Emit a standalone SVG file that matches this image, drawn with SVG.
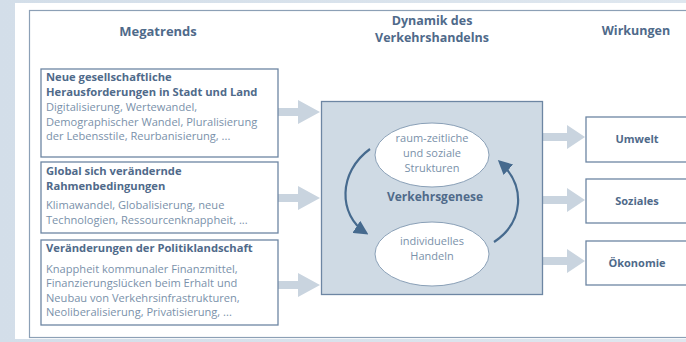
<svg xmlns="http://www.w3.org/2000/svg" width="686" height="342" viewBox="0 0 686 342">
<defs>
<linearGradient id="bg" x1="0" y1="0" x2="1" y2="0">
<stop offset="0" stop-color="#d3dee9"/><stop offset="1" stop-color="#dfe7ef"/>
</linearGradient>
<marker id="ah" viewBox="0 0 10 10" refX="8" refY="5" markerWidth="6.5" markerHeight="6.5" orient="auto" markerUnits="strokeWidth">
<path d="M0,0 L10,5 L0,10 Z" fill="#466a8e"/>
</marker>
<style>
.hd{font-family:"Open Sans","Noto Sans",sans-serif;font-weight:bold;fill:#4f6a8a;}
.bt{font-family:"Open Sans","Noto Sans",sans-serif;fill:#7a91aa;font-size:11.1px;}
.et{font-family:"Open Sans","Noto Sans",sans-serif;fill:#7a91aa;font-size:11px;}
.bh{font-family:"Open Sans","Noto Sans",sans-serif;font-weight:bold;fill:#4f6a8a;font-size:11.2px;}
.box{fill:#fff;stroke:#6d86a3;stroke-width:1.3;}
.arr{fill:#c9d4df;}
.ell{fill:#fff;stroke:#8aa0b7;stroke-width:1;}
.cur{fill:none;stroke:#466a8e;stroke-width:2.2;}
</style>
</defs>
<rect x="0" y="0" width="686" height="342" fill="url(#bg)"/>
<rect x="15" y="3" width="680" height="336" fill="#fff"/>
<rect x="29.5" y="10.5" width="680" height="327" fill="none" stroke="#8ca0b6" stroke-width="1.2"/>

<g id="headers">
<text class="hd" x="158" y="36" font-size="13" text-anchor="middle">Megatrends</text>
<text class="hd" x="432" y="25" font-size="12.5" text-anchor="middle">Dynamik des</text>
<text class="hd" x="432" y="41.5" font-size="12.5" text-anchor="middle">Verkehrshandelns</text>
<text class="hd" x="636" y="35" font-size="12.5" text-anchor="middle">Wirkungen</text>
</g>

<g id="connectors">
<polygon class="arr" points="278,108 298,108 298,100 320,112 298,124 298,116 278,116"/>
<polygon class="arr" points="278,194 298,194 298,186 320,198 298,210 298,202 278,202"/>
<polygon class="arr" points="278,281 298,281 298,273 320,285 298,297 298,289 278,289"/>
<polygon class="arr" points="543,133 567,133 567,125 585,137 567,149 567,141 543,141"/>
<polygon class="arr" points="543,196 567,196 567,188 585,200 567,212 567,204 543,204"/>
<polygon class="arr" points="543,257 567,257 567,249 585,261 567,273 567,265 543,265"/>
</g>

<g id="mt1">
<rect class="box" x="41" y="69" width="237" height="88"/>
<text class="bh" x="46" y="81">Neue gesellschaftliche</text>
<text class="bh" x="46" y="96">Herausforderungen in Stadt und Land</text>
<text class="bt" x="46" y="111">Digitalisierung, Wertewandel,</text>
<text class="bt" x="46" y="126">Demographischer Wandel, Pluralisierung</text>
<text class="bt" x="46" y="140">der Lebensstile, Reurbanisierung, ...</text>
</g>
<g id="mt2">
<rect class="box" x="41" y="162" width="237" height="71"/>
<text class="bh" x="46" y="175">Global sich verändernde</text>
<text class="bh" x="46" y="190">Rahmenbedingungen</text>
<text class="bt" x="46" y="209">Klimawandel, Globalisierung, neue</text>
<text class="bt" x="46" y="224">Technologien, Ressourcenknappheit, ...</text>
</g>
<g id="mt3">
<rect class="box" x="41" y="240" width="237" height="85"/>
<text class="bh" x="46" y="252">Veränderungen der Politiklandschaft</text>
<text class="bt" x="46" y="273">Knappheit kommunaler Finanzmittel,</text>
<text class="bt" x="46" y="287">Finanzierungslücken beim Erhalt und</text>
<text class="bt" x="46" y="302">Neubau von Verkehrsinfrastrukturen,</text>
<text class="bt" x="46" y="316">Neoliberalisierung, Privatisierung, ...</text>
</g>

<g id="dynamik">
<rect x="321.5" y="101.5" width="221" height="193" fill="#cfdae4" stroke="#6d86a3" stroke-width="1.3"/>
<ellipse class="ell" cx="432" cy="155" rx="57" ry="32"/>
<text class="et" x="432" y="142" text-anchor="middle">raum-zeitliche</text>
<text class="et" x="432" y="157" text-anchor="middle">und soziale</text>
<text class="et" x="432" y="172" text-anchor="middle">Strukturen</text>
<ellipse class="ell" cx="432" cy="254" rx="57" ry="32"/>
<text class="et" x="432" y="245" text-anchor="middle">individuelles</text>
<text class="et" x="432" y="260" text-anchor="middle">Handeln</text>
<text class="hd" x="435" y="201" font-size="12" text-anchor="middle">Verkehrsgenese</text>
<path class="cur" d="M370,149 C338,172 338,215 366,233" marker-end="url(#ah)"/>
<path class="cur" d="M494,242 C524,222 526,186 500,162" marker-end="url(#ah)"/>
</g>

<g id="umwelt">
<rect class="box" x="586" y="117" width="120" height="45"/>
<text class="hd" x="637" y="143" font-size="11" text-anchor="middle">Umwelt</text>
</g>
<g id="soziales">
<rect class="box" x="586" y="179" width="120" height="44"/>
<text class="hd" x="637" y="205" font-size="11" text-anchor="middle">Soziales</text>
</g>
<g id="oekonomie">
<rect class="box" x="586" y="241" width="120" height="44"/>
<text class="hd" x="637" y="267" font-size="11" text-anchor="middle">Ökonomie</text>
</g>
</svg>
